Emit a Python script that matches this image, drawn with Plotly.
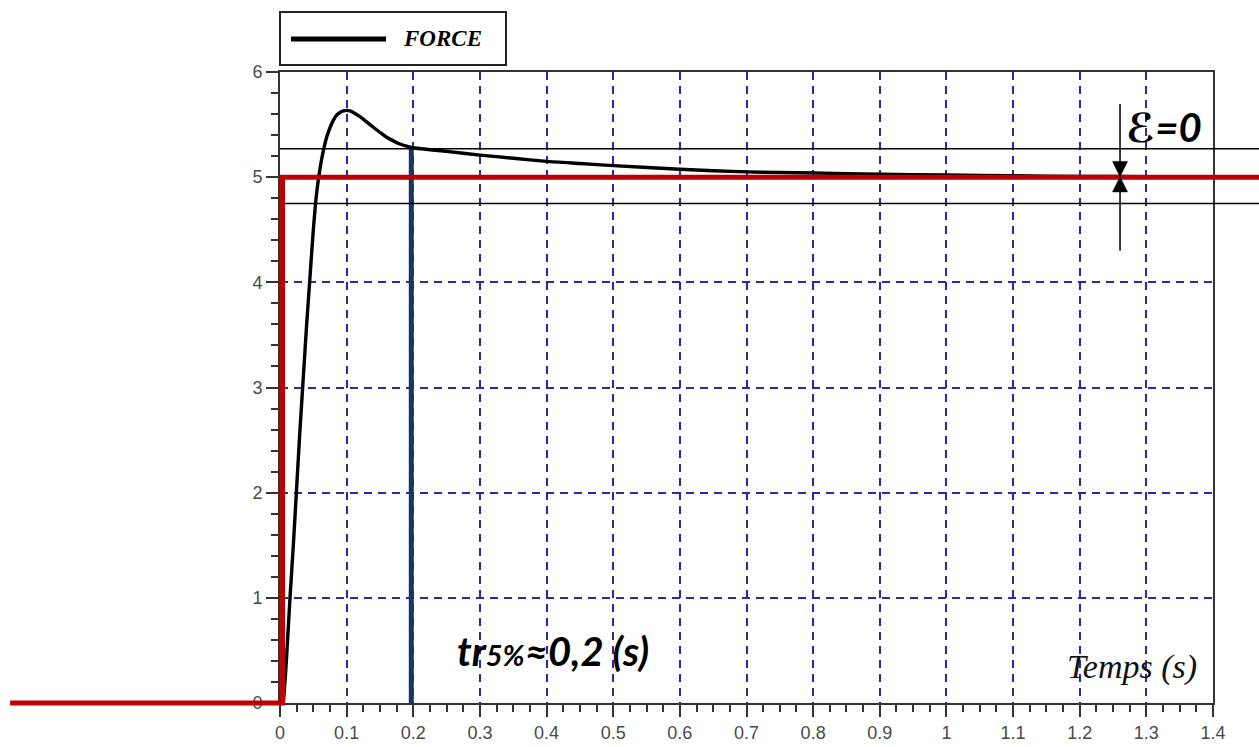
import plotly.graph_objects as go

# ---------------- data ----------------
force_t = [0.005, 0.008, 0.01, 0.015, 0.02, 0.025, 0.03, 0.035, 0.04, 0.045,
           0.05, 0.055, 0.06, 0.065, 0.07, 0.075, 0.08, 0.085, 0.09, 0.095,
           0.1, 0.105, 0.11, 0.12, 0.13, 0.14, 0.15, 0.16, 0.17,
           0.18, 0.19, 0.2, 0.25, 0.3, 0.35, 0.4, 0.45, 0.5, 0.6,
           0.7, 0.8, 0.9, 1.0, 1.1, 1.2, 1.3, 1.4]
force_val = [0.0, 0.25, 0.45, 1.0, 1.5, 2.05, 2.6, 3.1, 3.6, 4.05,
             4.5, 4.85, 5.08, 5.25, 5.38, 5.47, 5.54, 5.59, 5.615, 5.63,
             5.635, 5.63, 5.615, 5.575, 5.525, 5.475, 5.425, 5.38, 5.345,
             5.315, 5.295, 5.28, 5.245, 5.21, 5.18, 5.15, 5.13, 5.11, 5.075,
             5.05, 5.04, 5.028, 5.02, 5.013, 5.008, 5.005, 5.003]

step_t = [-0.405, 0.0038, 0.0038, 1.47]
step_val = [0, 0, 5, 5]

band_t = [0, 1.47]
band_upper = [5.27, 5.27]
band_lower = [4.75, 4.75]

tr_t = [0.197, 0.197]
tr_val = [0, 5.27]

x_tickvals = [0, 0.1, 0.2, 0.3, 0.4, 0.5, 0.6, 0.7, 0.8, 0.9, 1.0, 1.1, 1.2, 1.3, 1.4]
x_ticktext = ["0", "0.1", "0.2", "0.3", "0.4", "0.5", "0.6", "0.7", "0.8", "0.9",
              "1", "1.1", "1.2", "1.3", "1.4"]
y_tickvals = [0, 1, 2, 3, 4, 5, 6]
y_ticktext = ["0", "1", "2", "3", "4", "5", "6"]

# ---------------- layout geometry ----------------
W, H = 1259, 747
PX_L, PX_R, PX_T, PX_B = 280, 1213, 72, 703
X_MAX, Y_MAX = 1.4, 6
sx = (PX_R - PX_L) / X_MAX
sy = (PX_B - PX_T) / Y_MAX
x2_range = [-PX_L / sx, X_MAX + (W - PX_R) / sx]
y2_range = [-(H - PX_B) / sy, Y_MAX + PX_T / sy]

AXIS_COLOR = "#333333"
GRID_COLOR = "#2a2aa8"
RED = "#c00000"
NAVY = "#17375e"

fig = go.Figure()

fig.add_trace(go.Scatter(x=force_t, y=force_val, mode="lines", name="FORCE",
                         line=dict(color="black", width=3.4, shape="spline", smoothing=0.6),
                         xaxis="x", yaxis="y", showlegend=False))
fig.add_trace(go.Scatter(x=tr_t, y=tr_val, mode="lines", name="tr",
                         line=dict(color=NAVY, width=5),
                         xaxis="x", yaxis="y", showlegend=False))
fig.add_trace(go.Scatter(x=band_t, y=band_upper, mode="lines", name="+5%",
                         line=dict(color="black", width=1.5),
                         xaxis="x2", yaxis="y2", showlegend=False))
fig.add_trace(go.Scatter(x=band_t, y=band_lower, mode="lines", name="-5%",
                         line=dict(color="black", width=1.5),
                         xaxis="x2", yaxis="y2", showlegend=False))
fig.add_trace(go.Scatter(x=step_t, y=step_val, mode="lines", name="Consigne",
                         line=dict(color=RED, width=5),
                         xaxis="x2", yaxis="y2", showlegend=False))

tickfont = dict(family="Liberation Sans, Arial, sans-serif", size=18, color="#4a4a4a")

fig.update_layout(
    width=W, height=H,
    margin=dict(l=0, r=0, t=0, b=0, autoexpand=False),
    paper_bgcolor="white", plot_bgcolor="rgba(0,0,0,0)",
    showlegend=False,
    xaxis=dict(domain=[PX_L / W, PX_R / W], range=[0, X_MAX], anchor="y",
               automargin=False,
               showline=True, linecolor=AXIS_COLOR, linewidth=2, mirror=True,
               ticks="outside", ticklen=12, tickwidth=1.5, tickcolor=AXIS_COLOR,
               tickmode="array", tickvals=x_tickvals, ticktext=x_ticktext,
               tickfont=tickfont, showgrid=True, gridcolor=GRID_COLOR,
               gridwidth=1.5, griddash="8px,6px", zeroline=False,
               minor=dict(tick0=0, dtick=0.025, ticks="outside", ticklen=7,
                          tickwidth=1.5, tickcolor=AXIS_COLOR, showgrid=False)),
    yaxis=dict(domain=[(H - PX_B) / H, (H - PX_T) / H], range=[0, Y_MAX], anchor="x",
               automargin=False,
               showline=True, linecolor=AXIS_COLOR, linewidth=2, mirror=True,
               ticks="outside", ticklen=12, tickwidth=1.5, tickcolor=AXIS_COLOR,
               tickmode="array", tickvals=y_tickvals, ticktext=y_ticktext,
               tickfont=tickfont, showgrid=True, gridcolor=GRID_COLOR,
               gridwidth=1.5, griddash="8px,6px", zeroline=False,
               minor=dict(tick0=0, dtick=0.2, ticks="outside", ticklen=7,
                          tickwidth=1.5, tickcolor=AXIS_COLOR, showgrid=False)),
    xaxis2=dict(domain=[0, 1], range=x2_range, anchor="y2", visible=False,
                automargin=False, showgrid=False, zeroline=False),
    yaxis2=dict(domain=[0, 1], range=y2_range, anchor="x2", visible=False,
                automargin=False, showgrid=False, zeroline=False),
)

# epsilon arrows
ARW_X = 1.2605
fig.add_shape(type="line", xref="x", yref="y", x0=ARW_X, x1=ARW_X, y0=4.30, y1=5.695,
              line=dict(color="black", width=1.5))
hw = 7.5 / sx
fig.add_shape(type="path", xref="x", yref="y",
              path=f"M {ARW_X - hw} 5.15 L {ARW_X + hw} 5.15 L {ARW_X} 5.005 Z",
              fillcolor="black", line=dict(color="black", width=0.5))
fig.add_shape(type="path", xref="x", yref="y",
              path=f"M {ARW_X - hw} 4.86 L {ARW_X + hw} 4.86 L {ARW_X} 5.005 Z",
              fillcolor="black", line=dict(color="black", width=0.5))

# custom legend
fig.add_shape(type="rect", xref="paper", yref="paper",
              x0=280 / W, x1=506 / W, y0=1 - 65 / H, y1=1 - 12 / H,
              line=dict(color="#222222", width=2), fillcolor="white", layer="above")
fig.add_shape(type="line", xref="paper", yref="paper",
              x0=291 / W, x1=386 / W, y0=1 - 39 / H, y1=1 - 39 / H,
              line=dict(color="black", width=5))
fig.add_annotation(xref="paper", yref="paper", x=442 / W, y=1 - 39 / H,
                   xanchor="center", yanchor="middle", showarrow=False,
                   text="<b><i>FORCE</i></b>",
                   font=dict(family="Liberation Serif, Times New Roman, serif", size=23, color="black"))

# texts
fig.add_annotation(xref="x", yref="y", x=0.2626, y=0.494, xanchor="left", yanchor="middle",
                   showarrow=False,
                   text="<b><i>tr<span style='font-size:29px'>5%</span>≈0,2 (s)</i></b>",
                   font=dict(family="Lato, Open Sans, sans-serif", size=40, color="black"))
fig.add_annotation(xref="x", yref="y", x=1.266, y=5.48, xanchor="left", yanchor="middle",
                   showarrow=False, text="<b><i>ℰ=0</i></b>",
                   font=dict(family="Lato, DejaVu Sans, sans-serif", size=40, color="black"))
fig.add_annotation(xref="x", yref="y", x=1.178, y=0.342, xanchor="left", yanchor="middle",
                   showarrow=False, text="<i>Temps (s)</i>",
                   font=dict(family="Liberation Serif, Times New Roman, serif", size=34, color="#111111"))

fig.write_html("out.html", config={"displayModeBar": False},
               post_script="document.body.style.margin='0';document.body.style.overflow='hidden';")
